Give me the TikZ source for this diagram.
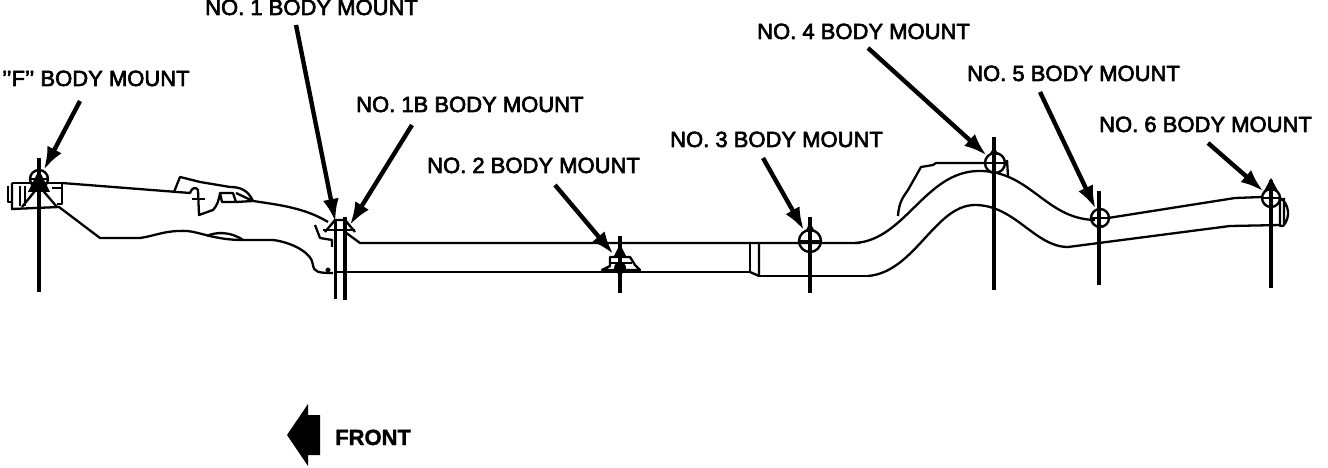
\documentclass[tikz,border=0pt]{standalone}
\usepackage{fontspec}
\usetikzlibrary{arrows.meta}
\newfontfamily\mountfont[RawFeature={embolden=3}]{Liberation Sans}
\newfontfamily\frontfont[RawFeature={embolden=1.5}]{Liberation Sans Bold}
\tikzset{
  mountlabel/.style={anchor=base west,inner sep=0pt,font=\mountfont\fontsize{22bp}{24bp}\selectfont},
  framebody/.style={line width=2.3bp,line join=round},
  bolt/.style={line width=3.2bp},
  leader/.style={-{Latex[length=23bp,width=16bp]},line width=4.4bp},
  mountring/.style={circle,draw,line width=2.4bp,minimum size=#1,inner sep=0pt},
  mountspot/.style={circle,minimum size=#1,inner sep=0pt},
}
\begin{document}
\begin{tikzpicture}[>=latex,x=1bp,y=-1bp,line join=bevel]
  \useasboundingbox (0,0) rectangle (1328,468);
  % Frame: front section
  \draw [framebody] (12,183) -- (62,183) -- (62,204) -- (57,204);
  \draw [framebody] (12,183) -- (12,209) -- (59,207) -- (100,238) -- (140,238) .. controls (155,236) and (165,230) .. (187,231) .. controls (200,232) and (215,240) .. (243,240) -- (273,240) .. controls (290,242) and (312,252) .. (313,265) .. controls (314,272) and (318,273) .. (333,273);
  \draw [framebody] (8,186) -- (8,202) -- (12,202);
  \draw [framebody] (20,186) -- (20,206) (25,186) -- (25,206) (52,188) -- (62,188);
  \draw [framebody] (22,207) -- (39,186) -- (57,207);
  \draw [framebody] (62,183) -- (190,193) .. controls (192,187) and (196,187) .. (198,190) -- (199,215) -- (213,210) .. controls (217,206) and (219,200) .. (220,193) -- (233,193) -- (236,202) -- (222,202) -- (220,193);
  \draw [framebody] (192,199) -- (205,199);
  \draw [framebody] (174,192) -- (180,177) -- (200,182) -- (230,187) .. controls (240,187) and (248,190) .. (253,201) -- (236,193) (236,202) -- (253,201) .. controls (280,205) and (305,208) .. (328,222);
  \draw [framebody] (207,236) .. controls (215,232) and (230,231) .. (243,240);
  \filldraw [framebody] (328,270) circle (1.6bp);
  % Frame: straight section
  \draw [framebody] (345,232) -- (360,243) -- (750,243) (750,243) -- (860,243);
  \draw [framebody] (335,272) -- (750,272) -- (750,243);
  \draw [framebody] (759,243) -- (759,276) -- (750,272);
  \draw [framebody] (759,276) -- (868,276);
  % Frame: kick up and rear section
  \draw [framebody] (855,243) .. controls (905,240) and (925,172) .. (978,171) .. controls (1030,170) and (1045,219) .. (1095,220);
  \draw [framebody] (868,276) .. controls (915,272) and (935,205) .. (975,205) .. controls (1015,205) and (1035,247) .. (1068,247);
  \draw [framebody] (1068,247) -- (1230,226) -- (1281,225);
  \draw [framebody] (1108,218) -- (1235,198) -- (1262,197);
  \draw [framebody] (1280,198) .. controls (1289,203) and (1291,218) .. (1283,226) -- (1280,226) -- (1280,198) (1284,198) -- (1284,226);
  % Frame: bracket at no. 4
  \draw [framebody] (898,216) .. controls (899,200) and (905,195) .. (908,190) -- (921,167) -- (933,165) -- (936,163) -- (986,163);
  \draw [framebody] (1007,160) -- (1008,176);
  % Node: mountf
  \node [mountring=18bp] (mountf) at (39,179) {};
  \fill (39,170) -- (28,192) -- (50,192) -- cycle;
  \draw [bolt] (39,158) -- (39,292);
  \draw [framebody] (30,179) -- (48,179);
  % Node: mountone, mountoneb
  \node [mountspot=16bp] (mountone) at (337,230) {};
  \node [mountspot=18bp] (mountoneb) at (345,233) {};
  \draw [framebody] (325,232) -- (335,220) -- (345,220) -- (355,232);
  \draw [framebody] (323,230) -- (355,230);
  \draw [framebody] (315,225) -- (320,238) -- (332,240) -- (332,247);
  \draw [bolt] (335.7,220) -- (335.7,299);
  \draw [bolt] (345,217) -- (345,300);
  % Node: mounttwo
  \node [mountspot=20bp] (mounttwo) at (620,262) {};
  \draw [framebody] (602,270) -- (610,266) -- (610,257) -- (630,257) -- (635,265) -- (640,270) -- cycle;
  \draw [framebody] (610,263) -- (632,263);
  \fill (620,268) circle (6bp);
  \fill (620,244) -- (613,258) -- (627,258) -- cycle;
  \draw [bolt] (620,236) -- (620,293);
  % Node: mountthree
  \node [mountring=22bp] (mountthree) at (810,241) {};
  \fill (810,222) -- (805,232) -- (815,232) -- cycle;
  \draw [framebody] (799,241) -- (821,241);
  \draw [bolt] (810,217) -- (810,293);
  % Node: mountfour
  \node [mountring=20bp] (mountfour) at (995,163) {};
  \fill (994,147) -- (989,155) -- (999,155) -- cycle;
  \draw [framebody] (985,163) -- (1005,163);
  \draw [bolt] (994,137) -- (994,290);
  % Node: mountfive
  \node [mountring=18bp] (mountfive) at (1100,218) {};
  \draw [framebody] (1091,218) -- (1109,218);
  \fill (1099,224) -- (1094,226) -- (1104,226) -- cycle;
  \draw [bolt] (1099,191) -- (1099,285);
  % Node: mountsix
  \node [mountring=18bp] (mountsix) at (1271,198) {};
  \fill (1271,178) -- (1264,191) -- (1278,191) -- cycle;
  \draw [framebody] (1262,198) -- (1280,198);
  \draw [bolt] (1271,180) -- (1271,288);
  % Node: labels
  \node [mountlabel] (labelf) at (2,86) {’’F’’ BODY MOUNT};
  \node [mountlabel] (labelone) at (205,15) {NO. 1 BODY MOUNT};
  \node [mountlabel] (labeloneb) at (356,112) {NO. 1B BODY MOUNT};
  \node [mountlabel] (labeltwo) at (427,173) {NO. 2 BODY MOUNT};
  \node [mountlabel] (labelthree) at (670,147) {NO. 3 BODY MOUNT};
  \node [mountlabel] (labelfour) at (757,39) {NO. 4 BODY MOUNT};
  \node [mountlabel] (labelfive) at (967,81) {NO. 5 BODY MOUNT};
  \node [mountlabel] (labelsix) at (1099,132) {NO. 6 BODY MOUNT};
  % Edge: label -> mount
  \draw [leader] ([xshift=78bp,yshift=-15bp]labelf.base west) -- (mountf);
  \draw [leader] ([xshift=91bp,yshift=-10bp]labelone.base west) -- (mountone);
  \draw [leader] ([xshift=56bp,yshift=-13bp]labeloneb.base west) -- (mountoneb);
  \draw [leader] ([xshift=128bp,yshift=-12bp]labeltwo.base west) -- (mounttwo);
  \draw [leader] ([xshift=93bp,yshift=-11bp]labelthree.base west) -- (mountthree);
  \draw [leader] ([xshift=111bp,yshift=-9bp]labelfour.base west) -- (mountfour);
  \draw [leader] ([xshift=73bp,yshift=-11bp]labelfive.base west) -- (mountfive);
  \draw [leader] ([xshift=109bp,yshift=-11bp]labelsix.base west) -- (mountsix);
  % Node: front
  \fill (287,435) -- (308,404) -- (308,415) -- (320,415) -- (320,455) -- (308,455) -- (308,466) -- cycle;
  \node [anchor=base west,inner sep=0pt,font=\frontfont\fontsize{22bp}{24bp}\selectfont] (front) at (335,445) {FRONT};
\end{tikzpicture}
\end{document}
